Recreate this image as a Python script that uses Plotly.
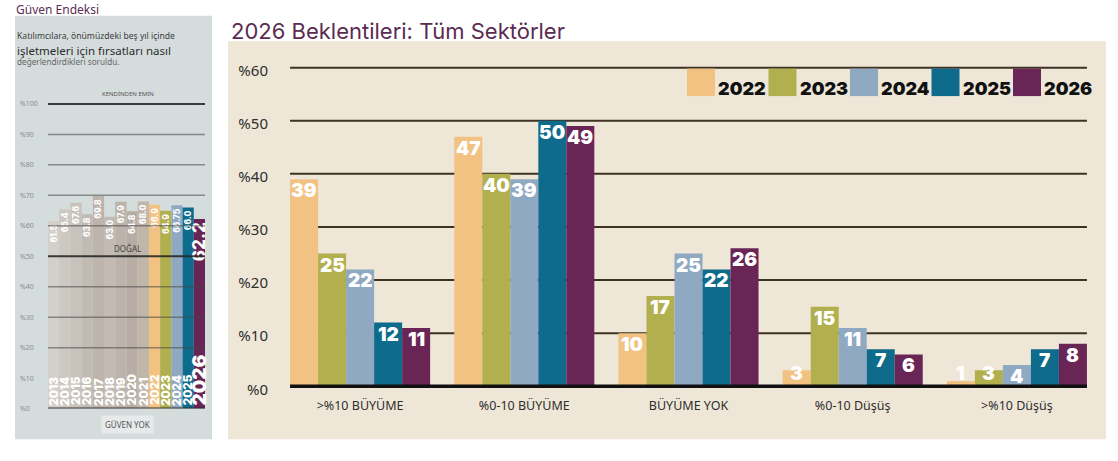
import plotly.graph_objects as go

W, H = 1118, 461

# ---------------- data ----------------
categories = [">%10 BÜYÜME", "%0-10 BÜYÜME", "BÜYÜME YOK", "%0-10 Düşüş", ">%10 Düşüş"]
series_names = ["2022", "2023", "2024", "2025", "2026"]
values_2022 = [39, 47, 10, 3, 1]
values_2023 = [25, 40, 17, 15, 3]
values_2024 = [22, 39, 25, 11, 4]
values_2025 = [12, 50, 22, 7, 7]
values_2026 = [11, 49, 26, 6, 8]
main_ticks = [0, 10, 20, 30, 40, 50, 60]
main_tick_labels = ["%0", "%10", "%20", "%30", "%40", "%50", "%60"]

index_years = ["2013", "2014", "2015", "2016", "2017", "2018", "2019",
               "2020", "2021", "2022", "2023", "2024", "2025", "2026"]
index_values = [61.5, 65.4, 67.6, 63.8, 69.8, 63.0, 67.9, 64.8, 68.0,
                66.9, 64.9, 66.75, 66.0, 62.2]
index_labels = ["61.5", "65.4", "67.6", "63.8", "69.8", "63.0", "67.9", "64.8",
                "68.0", "66.9", "64.9", "66.75", "66.0", "62.2"]
index_ticks = [0, 10, 20, 30, 40, 50, 60, 70, 80, 90, 100]
index_tick_labels = ["%0", "%10", "%20", "%30", "%40", "%50", "%60", "%70", "%80", "%90", "%100"]

# ---------------- styles ----------------
series_values = [values_2022, values_2023, values_2024, values_2025, values_2026]
series_colors = ["#f2c283", "#b2af4e", "#8fa9c2", "#0e6b8c", "#6a2557"]
grey_cols = ["#d3cfca", "#cdc8c2", "#c8c2bb", "#c2bbb4", "#bdb5ad",
             "#c3bbb3", "#bcb3aa", "#b7ada4", "#c1b6aa"]
index_colors = grey_cols + series_colors

HEAVY = "Inter, Roboto, DejaVu Sans"
SANS = "Noto Sans, Open Sans, DejaVu Sans"


def fx(px):
    return px / W


def fy(py):
    return 1 - py / H


# axis geometry (pixels)
MAIN_L, MAIN_R = 278, 1099
main_px_per = (394 - 69) / 60.0
main_lo, main_hi = -0.6, 62
idx_px_per = (416.7 - 106) / 100.0
idx_lo, idx_hi = 0, 103
BARGAP = 0.147
n_series = len(series_names)
bar_px = (MAIN_R - MAIN_L) / len(categories) * (1 - BARGAP) / n_series

fig = go.Figure()

# ---- left index chart ----
lab_sizes = [8.5] * (len(index_years) - 1) + [17]
fig.add_trace(go.Bar(
    x=index_years, y=index_values, xaxis="x", yaxis="y",
    marker=dict(color=index_colors, line=dict(width=0)), width=1,
    text=index_labels, textposition="inside", insidetextanchor="end",
    textangle=-90, constraintext="none", cliponaxis=False,
    textfont=dict(color="white", size=lab_sizes, family=HEAVY, weight=800),
    showlegend=False, hoverinfo="skip",
))

# ---- main grouped bars ----
for name, vals, col in zip(series_names, series_values, series_colors):
    fig.add_trace(go.Bar(
        name=name, x=categories, y=vals, xaxis="x2", yaxis="y2",
        marker=dict(color=col, line=dict(width=0)),
        showlegend=False, hoverinfo="skip",
    ))

shapes = []
annotations = []

# value labels for main bars (white, heavy, at the top inside each bar)
for i, vals in enumerate(series_values):
    off = (i - (n_series - 1) / 2) * bar_px
    for j, v in enumerate(vals):
        small = v * main_px_per < 17
        annotations.append(dict(
            text=str(v), x=j, y=0 if small else v, xref="x2", yref="y2",
            xshift=off, yshift=-1 if small else 2,
            xanchor="center", yanchor="bottom" if small else "top", showarrow=False,
            font=dict(family=HEAVY, size=19, color="white", weight=900)))

# panels
shapes.append(dict(type="rect", xref="paper", yref="paper", x0=fx(15), x1=fx(212),
                   y0=fy(448), y1=fy(16), fillcolor="#d5dcdc", line=dict(width=0), layer="below"))
shapes.append(dict(type="rect", xref="paper", yref="paper", x0=fx(228), x1=fx(1106),
                   y0=fy(448), y1=fy(42), fillcolor="#eee7d7", line=dict(width=0), layer="below"))

# left chart gridlines (above bars)
for t in index_ticks:
    if t == 10:
        continue
    strong = t in (0, 50, 100)
    shapes.append(dict(type="line", xref="x", yref="y", x0=-0.5, x1=len(index_years) - 0.5,
                       y0=t, y1=t, layer="above",
                       line=dict(color="rgba(40,40,40,0.9)" if strong else "rgba(70,70,70,0.55)",
                                 width=2 if strong else 1.5)))

# main gridlines
gx0 = -0.5 + BARGAP / 2
gx1 = len(categories) - 0.5 - BARGAP / 2
for t in main_ticks:
    if t == 0:
        shapes.append(dict(type="line", xref="x2", yref="y2", x0=gx0, x1=gx1, y0=0, y1=0,
                           layer="above", line=dict(color="#111111", width=3.5)))
    else:
        shapes.append(dict(type="line", xref="x2", yref="y2", x0=gx0, x1=gx1, y0=t, y1=t,
                           layer="below", line=dict(color="#3e3224", width=2)))

# legend (manual, large swatches)
for i, (name, col) in enumerate(zip(series_names, series_colors)):
    sx = 687 + i * 81.5
    shapes.append(dict(type="rect", xref="paper", yref="paper", x0=fx(sx), x1=fx(sx + 28),
                       y0=fy(98), y1=fy(70), fillcolor=col, line=dict(width=0)))
    annotations.append(dict(text=name, xref="paper", yref="paper", x=fx(sx + 29), y=fy(90),
                            xanchor="left", yanchor="middle", showarrow=False,
                            font=dict(family=HEAVY, size=18, color="#111111", weight=900)))

# year labels inside left bars
for i, yr in enumerate(index_years):
    big = i == len(index_years) - 1
    annotations.append(dict(text=yr, x=i, y=0, xref="x", yref="y", textangle=-90,
                            xanchor="center", yanchor="bottom", yshift=1, showarrow=False,
                            font=dict(family=HEAVY, size=19 if big else 11.5,
                                      color="white", weight=900)))

# left tick labels
for t, lab in zip(index_ticks, index_tick_labels):
    annotations.append(dict(text=lab, x=fx(18), y=t, xref="paper", yref="y",
                            xanchor="left", yanchor="middle", showarrow=False,
                            font=dict(family=SANS, size=7, color="#8a8e90")))

# texts
annotations += [
    dict(text="Güven Endeksi", x=fx(14), y=fy(10), xref="paper", yref="paper",
         xanchor="left", yanchor="middle", showarrow=False,
         font=dict(family=SANS, size=12, color="#5b2b52")),
    dict(text="Katılımcılara, önümüzdeki beş yıl içinde", x=fx(15), y=fy(37), xref="paper",
         yref="paper", xanchor="left", yanchor="middle", showarrow=False,
         font=dict(family=SANS, size=8.6, color="#3c3c3c")),
    dict(text="işletmeleri için fırsatları nasıl", x=fx(15), y=fy(51), xref="paper",
         yref="paper", xanchor="left", yanchor="middle", showarrow=False,
         font=dict(family=SANS, size=11.5, color="#2c2c2c")),
    dict(text="değerlendirdikleri soruldu.", x=fx(15), y=fy(63), xref="paper",
         yref="paper", xanchor="left", yanchor="middle", showarrow=False,
         font=dict(family=SANS, size=8.2, color="#666666")),
    dict(text="KENDİNDEN EMİN", x=fx(128), y=fy(96), xref="paper", yref="paper",
         xanchor="center", yanchor="middle", showarrow=False,
         font=dict(family=SANS, size=6, color="#555555")),
    dict(text="DOĞAL", x=fx(127), y=fy(253), xref="paper", yref="paper",
         xanchor="center", yanchor="middle", showarrow=False,
         font=dict(family=SANS, size=8, color="#444444")),
    dict(text="GÜVEN YOK", x=fx(127), y=fy(433), xref="paper", yref="paper",
         xanchor="center", yanchor="middle", showarrow=False, bgcolor="#e6eaea",
         borderpad=3, font=dict(family=SANS, size=8, color="#555555")),
    dict(text="2026 Beklentileri: Tüm Sektörler", x=fx(229), y=fy(32), xref="paper",
         yref="paper", xanchor="left", yanchor="middle", showarrow=False,
         font=dict(family="Inter, Noto Sans, DejaVu Sans", size=22, color="#5b2b52")),
]

fig.update_layout(
    width=W, height=H,
    margin=dict(l=0, r=0, t=0, b=0),
    paper_bgcolor="white", plot_bgcolor="rgba(0,0,0,0)",
    barmode="group", bargap=BARGAP, bargroupgap=0,
    showlegend=False,
    shapes=shapes, annotations=annotations,
    xaxis=dict(type="category", domain=[fx(48), fx(205)], range=[-0.5, len(index_years) - 0.5],
               showticklabels=False, showgrid=False, zeroline=False, fixedrange=True),
    yaxis=dict(domain=[fy(416.7 - idx_lo * idx_px_per), fy(416.7 - idx_hi * idx_px_per)],
               range=[idx_lo, idx_hi], showticklabels=False, showgrid=False,
               zeroline=False, fixedrange=True),
    xaxis2=dict(type="category", domain=[fx(MAIN_L), fx(MAIN_R)],
                range=[-0.5, len(categories) - 0.5],
                anchor="y2", showgrid=False, zeroline=False, ticks="",
                tickfont=dict(family=SANS, size=12.5, color="#2e2e2e"), ticklabelstandoff=7,
                fixedrange=True),
    yaxis2=dict(domain=[fy(394 - main_lo * main_px_per), fy(394 - main_hi * main_px_per)],
                range=[main_lo, main_hi], anchor="x2", showgrid=False, zeroline=False,
                tickvals=main_ticks, ticktext=main_tick_labels, ticks="",
                tickfont=dict(family=SANS, size=15, color="#2e2e2e"),
                ticklabelstandoff=9, ticklabelshift=3, fixedrange=True),
    font=dict(family=SANS),
)

fig.write_html("out.html", config={"displayModeBar": False},
               post_script="document.body.style.margin='0';document.body.style.overflow='hidden';")
